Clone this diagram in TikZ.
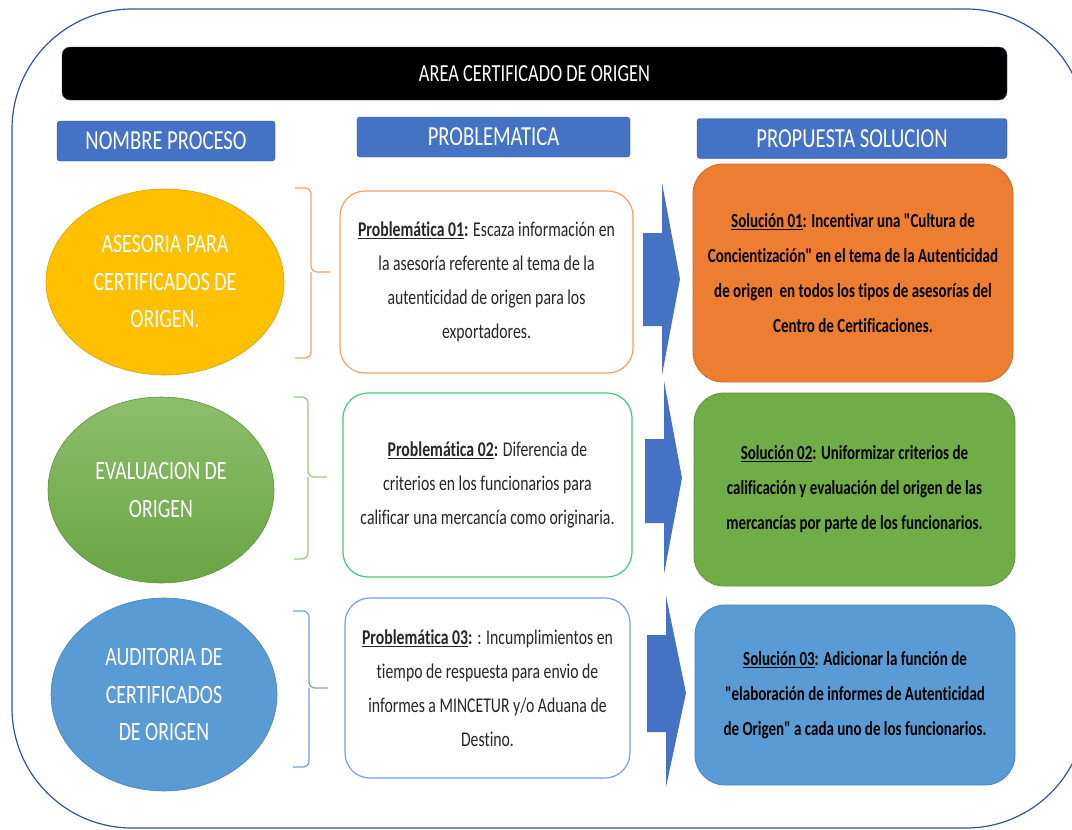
\documentclass[tikz,border=0pt]{standalone}
\usepackage{fontspec}
\setmainfont{Carlito}[FakeStretch=0.75,Ligatures={TeXOff,NoCommon}]
\usetikzlibrary{positioning,shapes.geometric}

\definecolor{frameblue}{RGB}{47,85,151}
\definecolor{headblue}{RGB}{68,114,196}
\definecolor{headline}{RGB}{47,82,143}
\definecolor{procyellow}{RGB}{255,192,0}
\definecolor{procgreen}{RGB}{112,173,71}
\definecolor{procblue}{RGB}{91,155,213}
\definecolor{solorange}{RGB}{237,125,49}
\definecolor{lineorange}{RGB}{244,160,110}
\definecolor{linegreen}{RGB}{70,200,120}
\definecolor{lineblue}{RGB}{120,160,225}
\definecolor{bracegreen}{RGB}{150,200,130}

\begin{document}
\begin{tikzpicture}[x=1pt,y=-1pt,
    title node/.style={rectangle,rounded corners=8pt,fill=black,draw=headline,text=white,minimum width=945pt,minimum height=53pt,font=\fontsize{24.5}{30}\selectfont},
    head node/.style={rectangle,rounded corners=3pt,fill=headblue,draw=headline,text=white,minimum height=40pt,font=\fontsize{27.5}{32}\selectfont},
    proc node/.style={ellipse,inner sep=0pt,text=white,align=center,line width=0.6pt,font=\fontsize{26.5}{37.5}\selectfont},
    prob node/.style={rectangle,rounded corners=25pt,fill=white,line width=1.2pt,text=black!85,align=center,font=\fontsize{21}{34}\selectfont},
    sol node/.style={rectangle,rounded corners=30pt,line width=0.8pt,align=center,font=\bfseries\fontsize{20}{35}\selectfont},
    block arrow/.style={fill=headblue},
    bracket/.style={line width=1.2pt,rounded corners=6pt}]

    \useasboundingbox (0,0) rectangle (1072,830);
    \draw[frameblue,line width=1.2pt,rounded corners=120pt] (12,9) rectangle (1086,828);

    \node[title node] (title) at (534.5,73.5) {AREA CERTIFICADO DE ORIGEN};

    \node[head node,minimum width=218pt] (h1) at (166,141) {NOMBRE PROCESO};
    \node[head node,minimum width=273pt] (h2) at (493.5,137) {PROBLEMATICA};
    \node[head node,minimum width=310pt] (h3) at (852,138.5) {PROPUESTA SOLUCION};

    % procesos
    \node[proc node,fill=procyellow,draw=procyellow!85!black,minimum width=238pt,minimum height=186pt] (e1) at (165,282) {ASESORIA PARA\\CERTIFICADOS DE\\ORIGEN.};
    \node[proc node,top color=procgreen!80!white,bottom color=procgreen!95!black,draw=procgreen!85!black,minimum width=226pt,minimum height=186pt] (e2) at (161,490) {EVALUACION DE\\ORIGEN};
    \node[proc node,fill=procblue,draw=procblue!85!black,minimum width=226pt,minimum height=193pt] (e3) at (164,694.5) {AUDITORIA DE\\CERTIFICADOS\\DE ORIGEN};

    % problematicas
    \node[prob node,draw=lineorange,minimum width=293pt,minimum height=182pt] (p1) at (486.5,282) {{\bfseries\underline{Problemática 01}:} Escaza información en\\la asesoría referente al tema de la\\autenticidad de origen para los\\exportadores.};
    \node[prob node,draw=linegreen,minimum width=289pt,minimum height=184pt] (p2) at (487.5,485) {{\bfseries\underline{Problemática 02}:} Diferencia de\\criterios en los funcionarios para\\calificar una mercancía como originaria.};
    \node[prob node,draw=lineblue,minimum width=285pt,minimum height=180pt] (p3) at (487.5,688) {{\bfseries\underline{Problemática 03}:} : Incumplimientos en\\tiempo de respuesta para envio de\\informes a MINCETUR y/o Aduana de\\Destino.};

    % soluciones
    \node[sol node,fill=solorange,draw=solorange!85!black,minimum width=320pt,minimum height=218pt] (s1) at (853,273) {\underline{Solución 01}: Incentivar una "Cultura de\\Concientización" en el tema de la Autenticidad\\de origen~ en todos los tipos de asesorías del\\Centro de Certificaciones.};
    \node[sol node,fill=procgreen,draw=procgreen!85!black,minimum width=321pt,minimum height=193pt] (s2) at (854.5,489.5) {\underline{Solución 02}: Uniformizar criterios de\\calificación y evaluación del origen de las\\mercancías por parte de los funcionarios.};
    \node[sol node,fill=procblue,draw=procblue!85!black,minimum width=320pt,minimum height=180pt] (s3) at (855,695) {\underline{Solución 03}: Adicionar la función de\\"elaboración de informes de Autenticidad\\de Origen" a cada uno de los funcionarios.};

    % llaves
    \draw[bracket,lineorange] (295,188) -| (311,272) -- (330,272);
    \draw[bracket,lineorange] (295,358) -| (311,272);
    \draw[bracket,bracegreen] (294,397) -| (308,477) -- (327,477);
    \draw[bracket,bracegreen] (294,559) -| (308,477);
    \draw[bracket,lineblue] (293,611) -| (309,688) -- (328,688);
    \draw[bracket,lineblue] (293,767) -| (309,688);

    % flechas
    \fill[block arrow] (643,233) -- (662,233) -- (662,183) -- (680,279) -- (662,375) -- (662,326) -- (643,326) -- cycle;
    \fill[block arrow] (645,439) -- (664,439) -- (664,381) -- (682,478) -- (664,574) -- (664,523) -- (645,523) -- cycle;
    \fill[block arrow] (647,635) -- (666,635) -- (666,596) -- (686,693) -- (666,787) -- (666,732) -- (647,732) -- cycle;
\end{tikzpicture}
\end{document}
